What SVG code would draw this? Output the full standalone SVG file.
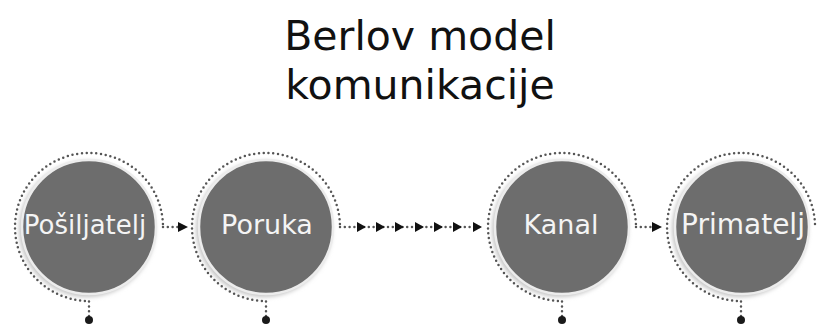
<svg xmlns="http://www.w3.org/2000/svg" width="817" height="326" viewBox="0 0 817 326">
<defs>
<style>
.title{font-family:"DejaVu Sans",sans-serif;font-size:41px;fill:#111;text-anchor:middle}
.lbl{font-family:"DejaVu Sans",sans-serif;font-size:27px;fill:#f4f4f4;text-anchor:middle}
.disc{fill:#6d6d6d;stroke:#ececec;stroke-width:2.5}
.shadow{fill:#c4c4c4;filter:url(#blur)}
.dots{fill:none;stroke:#555;stroke-width:2.5;stroke-linecap:round;stroke-dasharray:0 4.8}
.end{fill:#1a1a1a}
.arr{fill:#111}
</style>
<filter id="blur" x="-20%" y="-20%" width="140%" height="140%"><feGaussianBlur stdDeviation="2"/></filter>
</defs>
<rect width="817" height="326" fill="#fff"/>
<g id="title">
<text class="title" x="420" y="50">Berlov model</text>
<text class="title" x="420" y="99">komunikacije</text>
</g>
<g id="node-posiljatelj">
<circle class="shadow" cx="87" cy="229" r="68"/>
<circle class="disc" cx="89" cy="227" r="67"/>
<text class="lbl" x="85" y="234" style="font-size:26px">Pošiljatelj</text>
<path class="dots" d="M89 316 L89 301 A74 74 0 1 1 163 227"/>
<circle class="end" cx="89" cy="320" r="4"/>
</g>
<g id="node-poruka">
<circle class="shadow" cx="264" cy="229" r="68"/>
<circle class="disc" cx="266" cy="227" r="67"/>
<text class="lbl" x="267" y="234">Poruka</text>
<path class="dots" d="M266 316 L266 301 A74 74 0 1 1 340 227"/>
<circle class="end" cx="266" cy="320" r="4"/>
</g>
<g id="node-kanal">
<circle class="shadow" cx="560" cy="229" r="68"/>
<circle class="disc" cx="562" cy="227" r="67"/>
<text class="lbl" x="561" y="234">Kanal</text>
<path class="dots" d="M562 316 L562 301 A74 74 0 1 1 636 227"/>
<circle class="end" cx="562" cy="320" r="4"/>
</g>
<g id="node-primatelj">
<circle class="shadow" cx="740" cy="229" r="68"/>
<circle class="disc" cx="742" cy="227" r="67"/>
<text class="lbl" x="743" y="234" style="font-size:28px">Primatelj</text>
<path class="dots" d="M741 316 L741 301 A74 74 0 1 1 815 224"/>
<circle class="end" cx="741" cy="320" r="4"/>
</g>
<g id="connectors">
<path class="dots" d="M163 227 L180 227"/>
<polygon class="arr" points="178,222 188,227 178,232"/>
<path class="dots" d="M340 227 L482 227"/>
<polygon class="arr" points="357,222 366,227 357,232"/>
<polygon class="arr" points="376,222 385,227 376,232"/>
<polygon class="arr" points="395,222 404,227 395,232"/>
<polygon class="arr" points="415,222 424,227 415,232"/>
<polygon class="arr" points="434,222 443,227 434,232"/>
<polygon class="arr" points="453,222 462,227 453,232"/>
<polygon class="arr" points="473,222 482,227 473,232"/>
<path class="dots" d="M636 227 L654 227"/>
<polygon class="arr" points="652,222 662,227 652,232"/>
</g>
</svg>
